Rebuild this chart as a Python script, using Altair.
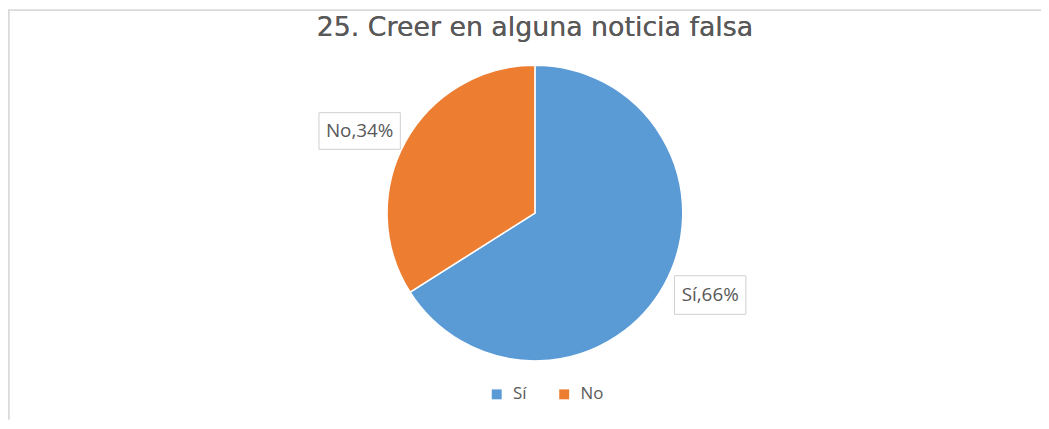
import altair as alt
import pandas as pd

titulo = "25. Creer en alguna noticia falsa"
categorias = ["Sí", "No"]
valores = [66, 34]
colores = ["#5B9BD5", "#ED7D31"]

df = pd.DataFrame({"categoria": categorias, "valor": valores, "orden": list(range(len(categorias)))})

W, H = 1041, 413
CX, CY = 531, 205
R = 149
RL = 195
DT = -0.065
FONT = "Open Sans"
GRIS = "#595959"

base = alt.Chart(df).encode(
    theta=alt.Theta("valor:Q", stack=True),
    order=alt.Order("orden:Q"),
    x=alt.value(CX),
    y=alt.value(CY),
)

pie = base.mark_arc(radius=R, stroke="white", strokeWidth=1.5).encode(
    color=alt.Color(
        "categoria:N",
        scale=alt.Scale(domain=categorias, range=colores),
        sort=categorias,
        legend=alt.Legend(
            title=None,
            orient="none",
            legendX=484,
            legendY=379,
            direction="horizontal",
            symbolType="square",
            symbolSize=100,
            symbolStrokeWidth=0,
            symbolOpacity=1,
            labelFont=FONT,
            labelFontSize=17,
            labelColor=GRIS,
            labelOffset=8,
            columnPadding=29,
        ),
    )
)

textos = base.transform_calculate(
    etiqueta="datum.categoria + ',' + datum.valor + '%'"
).mark_text(
    radius=RL,
    thetaOffset=DT,
    font=FONT,
    fontSize=19,
    color=GRIS,
    baseline="middle",
    align="center",
).encode(text="etiqueta:N", detail="categoria:N")

pos = (
    alt.Chart(df)
    .transform_window(acum="sum(valor)", sort=[alt.SortField("orden")], frame=[None, 0])
    .transform_joinaggregate(total="sum(valor)")
    .transform_calculate(ang=f"2*PI*(datum.acum - datum.valor/2)/datum.total + ({DT})")
    .transform_calculate(bx=f"{CX} + {RL}*sin(datum.ang)", by=f"{CY} - {RL}*cos(datum.ang)")
    .encode(x=alt.X("bx:Q", scale=None), y=alt.Y("by:Q", scale=None))
)

cajas_no = pos.transform_filter("datum.categoria == 'No'").mark_point(
    shape="M-1,-0.45L1,-0.45L1,0.45L-1,0.45Z",
    size=82 * 82,
    filled=False,
    stroke="#d0d0d0",
    strokeWidth=1,
    opacity=1,
)
cajas_si = pos.transform_filter("datum.categoria == 'Sí'").mark_point(
    shape="M-1,-0.54L1,-0.54L1,0.54L-1,0.54Z",
    size=72 * 72,
    filled=False,
    stroke="#d0d0d0",
    strokeWidth=1,
    opacity=1,
)

titulo_capa = alt.Chart(df).mark_text(
    font="DejaVu Sans", fontSize=27, color=GRIS, baseline="alphabetic", align="center"
).encode(x=alt.value(CX), y=alt.value(27), text=alt.value(titulo))

borde_izq = alt.Chart(df).mark_rule(color="#d9d9d9", strokeWidth=1.5).encode(
    x=alt.value(0.75), y=alt.value(0), y2=alt.value(H)
)
borde_sup = alt.Chart(df).mark_rule(color="#d9d9d9", strokeWidth=1.5).encode(
    y=alt.value(0.75), x=alt.value(0), x2=alt.value(W)
)

chart = alt.layer(
    borde_izq, borde_sup, pie, cajas_no, cajas_si, textos, titulo_capa
).properties(
    width=W, height=H, padding=0, autosize=alt.AutoSizeParams(type="none")
).configure_view(stroke=None)

chart.save("out.html", embed_options={"renderer": "svg", "actions": False})
